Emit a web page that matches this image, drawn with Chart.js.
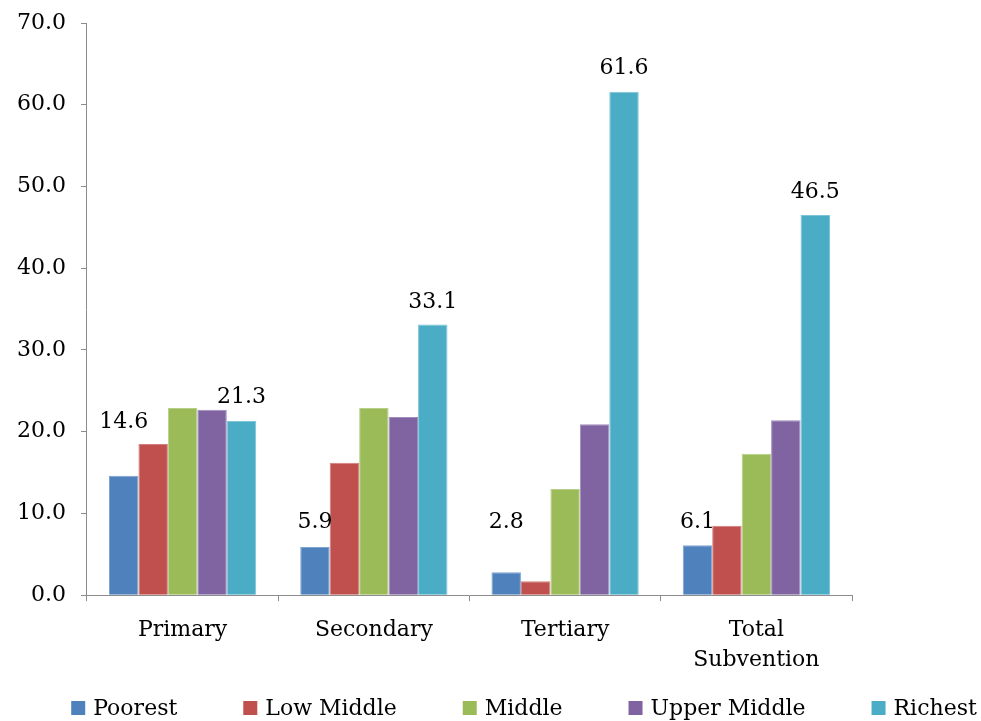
<!DOCTYPE html>
<html>
<head>
<meta charset="utf-8">
<script src="https://cdn.jsdelivr.net/npm/chart.js@4.4.1/dist/chart.umd.min.js"></script>
<style>
  html, body { margin: 0; padding: 0; background: #ffffff; }
  #wrap { width: 981px; height: 721px; }
</style>
</head>
<body>
<div id="wrap"><canvas id="c" width="981" height="721"></canvas></div>
<script>
// ---- Data ----
const categories = ['Primary', 'Secondary', 'Tertiary', ['Total', 'Subvention']];
const seriesNames = ['Poorest', 'Low Middle', 'Middle', 'Upper Middle', 'Richest'];
const poorest     = [14.6, 5.9, 2.8, 6.1];
const lowMiddle   = [18.5, 16.2, 1.7, 8.5];
const middle      = [22.9, 22.9, 13.0, 17.3];
const upperMiddle = [22.7, 21.8, 20.9, 21.4];
const richest     = [21.3, 33.1, 61.6, 46.5];
const yTicks = [0, 10, 20, 30, 40, 50, 60, 70];

// ---- Styles ----
const colors  = ['#4F81BD', '#C0504D', '#9BBB59', '#8064A2', '#4BACC6'];
const borders = ['#7FA3D0', '#D47D7B', '#B7CF88', '#A28CBD', '#7CC4D7'];
const FONT = "'DejaVu Serif', serif";
const axisGray = '#8C8C8C';

const seriesValues = [poorest, lowMiddle, middle, upperMiddle, richest];
const datasets = seriesNames.map((name, i) => ({
  label: name,
  data: seriesValues[i],
  backgroundColor: colors[i],
  borderColor: borders[i],
  borderWidth: 1,
  categoryPercentage: 0.77,
  barPercentage: 1.0
}));

// value labels for Poorest and Richest (lift = px from bar top to label centre)
const valueLabelPlugin = {
  id: 'valueLabels',
  afterDatasetsDraw(chart, args, opts) {
    const ctx = chart.ctx;
    ctx.save();
    ctx.font = '22px ' + FONT;
    ctx.fillStyle = '#000';
    ctx.textAlign = 'center';
    ctx.textBaseline = 'alphabetic';
    opts.series.forEach(s => {
      const meta = chart.getDatasetMeta(s.index);
      meta.data.forEach((bar, j) => {
        const v = chart.data.datasets[s.index].data[j];
        const lift = s.lift[j];
        ctx.fillText(v.toFixed(1), bar.x, bar.y - lift + 8);
      });
    });
    ctx.restore();
  }
};

// legend drawn along the bottom
const bottomLegendPlugin = {
  id: 'bottomLegend',
  afterDraw(chart, args, opts) {
    const ctx = chart.ctx;
    ctx.save();
    ctx.font = '22px ' + FONT;
    ctx.textBaseline = 'middle';
    ctx.textAlign = 'left';
    const box = 14, gapText = 8, gapItem = opts.gap;
    const items = chart.data.datasets.map(d => ({
      text: d.label, color: d.backgroundColor,
      w: box + gapText + ctx.measureText(d.label).width
    }));
    const total = items.reduce((a, it) => a + it.w, 0) + gapItem * (items.length - 1);
    let x = opts.centerX - total / 2;
    const y = opts.y;
    items.forEach(it => {
      ctx.fillStyle = it.color;
      ctx.fillRect(x, y - box / 2, box, box);
      ctx.fillStyle = '#000';
      ctx.fillText(it.text, x + box + gapText, y + 1);
      x += it.w + gapItem;
    });
    ctx.restore();
  }
};

new Chart(document.getElementById('c'), {
  type: 'bar',
  data: { labels: categories, datasets: datasets },
  plugins: [valueLabelPlugin, bottomLegendPlugin],
  options: {
    responsive: false,
    devicePixelRatio: 1,
    animation: false,
    layout: { padding: { left: 2, right: 129, top: 10, bottom: 32 } },
    plugins: {
      legend: { display: false },
      tooltip: { enabled: false },
      valueLabels: {
        series: [
          { index: 0, lift: [56, 27, 52, 25] },
          { index: 4, lift: [26, 25, 26, 25] }
        ]
      },
      bottomLegend: { gap: 66, centerX: 524, y: 708 }
    },
    scales: {
      x: {
        grid: { display: true, drawOnChartArea: false, drawTicks: true, tickLength: 6, color: axisGray, offset: true },
        border: { display: true, color: axisGray, width: 1 },
        ticks: {
          color: '#000',
          font: { family: FONT, size: 22, lineHeight: 1.36 },
          padding: 14,
          maxRotation: 0, autoSkip: false
        }
      },
      y: {
        min: 0, max: 70,
        afterBuildTicks(scale) { scale.ticks = yTicks.map(v => ({ value: v })); },
        grid: { display: true, drawOnChartArea: false, drawTicks: true, tickLength: 6, color: axisGray },
        border: { display: true, color: axisGray, width: 1 },
        ticks: {
          color: '#000',
          font: { family: FONT, size: 22, lineHeight: 0.73 },
          padding: 15,
          callback: v => Number(v).toFixed(1)
        }
      }
    }
  }
});
</script>
</body>
</html>
